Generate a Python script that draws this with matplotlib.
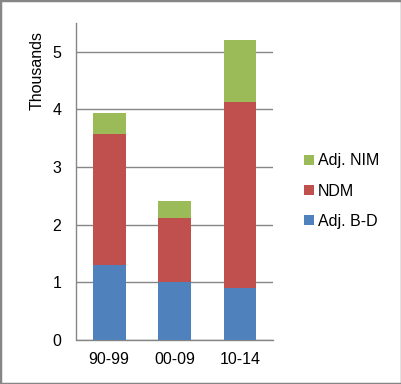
import matplotlib
matplotlib.use("Agg")
import matplotlib.pyplot as plt
from matplotlib.patches import Rectangle

categories = ["90-99", "00-09", "10-14"]
adj_bd = [1.30, 1.00, 0.91]
ndm = [2.28, 1.12, 3.22]
adj_nim = [0.36, 0.29, 1.08]
yticks = [0, 1, 2, 3, 4, 5]

plt.rcParams['font.family'] = ['Liberation Sans', 'DejaVu Sans']

fig = plt.figure(figsize=(4.02, 3.84), dpi=100)
ax = fig.add_axes([76.5/402, 44/384, 196/402, 317/384])

x = list(range(len(categories)))
w = 0.5
blue, red, green = "#4F81BD", "#C0504D", "#9BBB59"
b1 = ax.bar(x, adj_bd, w, color=blue, label="Adj. B-D", zorder=3)
bottom2 = adj_bd
b2 = ax.bar(x, ndm, w, bottom=bottom2, color=red, label="NDM", zorder=3)
bottom3 = [a + b for a, b in zip(adj_bd, ndm)]
b3 = ax.bar(x, adj_nim, w, bottom=bottom3, color=green, label="Adj. NIM", zorder=3)

ax.set_xlim(-0.5, 2.5)
ax.set_ylim(0, 5.5)
ax.set_yticks(yticks)
ax.set_xticks(x)
ax.set_xticklabels(categories)
ax.yaxis.grid(True, color="#868686", linewidth=1)
ax.set_axisbelow(True)
for s in ["top", "right"]:
    ax.spines[s].set_visible(False)
for s in ["left", "bottom"]:
    ax.spines[s].set_color("#868686")
    ax.spines[s].set_linewidth(1)
fs = 11.5
ax.tick_params(axis="both", length=0, labelsize=fs, colors="black")
ax.tick_params(axis="y", pad=11)
ax.tick_params(axis="x", pad=9)

fig.text(37/402, 1 - 71/384, "Thousands", rotation=90, ha="center", va="center", fontsize=fs)

leg = fig.legend(handles=[b3, b2, b1], labels=["Adj. NIM", "NDM", "Adj. B-D"],
                 loc="center left", bbox_to_anchor=(304/402, 1 - 191/384),
                 frameon=False, fontsize=fs, handlelength=0.6, handleheight=0.6,
                 handletextpad=0.25, labelspacing=0.95, borderpad=0, borderaxespad=0)

fig.patches.append(Rectangle((0, 0), 1, 1, transform=fig.transFigure, fill=False,
                             edgecolor="#868686", linewidth=2.5, zorder=10))

fig.savefig("out.png", dpi=100)
